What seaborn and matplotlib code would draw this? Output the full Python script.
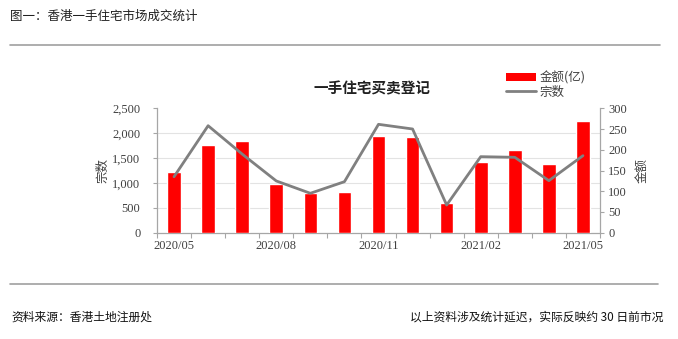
import numpy as np
import pandas as pd
import matplotlib
matplotlib.use("Agg")
import matplotlib.pyplot as plt
from matplotlib.patches import Patch
from matplotlib.lines import Line2D
from matplotlib.ticker import FixedLocator, FuncFormatter
import seaborn as sns

# Monthly first-hand residential registrations, Hong Kong
months = ["2020/05", "2020/06", "2020/07", "2020/08", "2020/09", "2020/10", "2020/11",
          "2020/12", "2021/01", "2021/02", "2021/03", "2021/04", "2021/05"]
amount_yi = [147, 212, 220, 117, 95, 97, 233, 230, 71, 170, 199, 165, 269]   # 金额(亿)
deals = [1125, 2150, 1580, 1040, 792, 1025, 2178, 2084, 556, 1528, 1515, 1046, 1548]  # 宗数
shown_months = ["2020/05", "2020/08", "2020/11", "2021/02", "2021/05"]

sns.set_theme(style="white")
plt.rcParams["font.family"] = ["Noto Sans CJK SC", "DejaVu Sans"]

df = pd.DataFrame({"pos": np.arange(len(months)), "month": months,
                   "amount": amount_yi, "deals": deals})

W, H = 678, 339
fig = plt.figure(figsize=(W / 100, H / 100), dpi=100)
fig.patch.set_facecolor("white")

left, right, bottom, top = 157, 600, 232.7, 108.3
ax = fig.add_axes([left / W, 1 - bottom / H, (right - left) / W, (bottom - top) / H])
ax2 = ax.twinx()

RED = "#FF0000"
GREY = "#808080"
AXC = "#A6A6A6"
TXT = "#404040"
num_font = dict(family="Liberation Serif", size=9, color=TXT)

# bars: amount on the right-hand scale
sns.barplot(data=df, x="pos", y="amount", ax=ax, color=RED, width=0.4,
            saturation=1, native_scale=True, zorder=3)
ax.set_xlim(-0.5, len(months) - 0.5)
ax.set_ylim(0, 300)
ax.yaxis.tick_right()
ax.yaxis.set_label_position("right")
ax.set_yticks(np.arange(0, 301, 50))
ax.set_yticklabels([f"{v:d}" for v in range(0, 301, 50)], fontdict=num_font)
ax.yaxis.set_minor_locator(FixedLocator(np.arange(60, 301, 60)))
ax.grid(which="minor", axis="y", color="#E3E3E3", linewidth=0.8, zorder=0)
ax.grid(which="major", axis="y", visible=False)
ax.tick_params(axis="y", which="major", left=False, right=True, length=3, width=0.8,
               color=AXC, pad=3)
ax.tick_params(axis="y", which="minor", left=False, right=False, length=0)
ax.set_ylabel("金额", fontsize=9, color=TXT, rotation=90, labelpad=6)

# x axis: labels every third month, tick marks between categories
label_pos = [months.index(m) for m in shown_months]
ax.set_xticks(label_pos)
ax.set_xticklabels(shown_months, fontdict=num_font)
ax.xaxis.set_minor_locator(FixedLocator(np.arange(-0.5, len(months), 1.0)))
ax.tick_params(axis="x", which="major", length=0, pad=5)
ax.tick_params(axis="x", which="minor", bottom=True, length=3.5, width=0.8, color=AXC)
ax.set_xlabel("")

for side in ["left", "right", "bottom"]:
    ax.spines[side].set_visible(True)
    ax.spines[side].set_color(AXC)
    ax.spines[side].set_linewidth(0.9)
ax.spines["top"].set_visible(False)

# line: number of deals on the left-hand scale
sns.lineplot(data=df, x="pos", y="deals", ax=ax2, color=GREY, linewidth=2.0, zorder=4)
ax2.set_xlim(-0.5, len(months) - 0.5)
ax2.set_ylim(0, 2500)
ax2.yaxis.tick_left()
ax2.yaxis.set_label_position("left")
ax2.set_yticks(np.arange(0, 2501, 500))
ax2.yaxis.set_major_formatter(FuncFormatter(lambda v, p: f"{int(v):,}"))
for t in ax2.get_yticklabels():
    t.set_fontfamily("Liberation Serif")
ax2.tick_params(axis="y", left=True, right=False, length=3, width=0.8, color=AXC,
                labelsize=9, labelcolor=TXT, pad=9)
ax2.set_ylabel("宗数", fontsize=9, color=TXT, labelpad=2)
ax2.set_xlabel("")
for s in ax2.spines.values():
    s.set_visible(False)
ax2.grid(False)
ax2.tick_params(axis="x", length=0)

# chart title
fig.text(372 / W, 1 - 88 / H, "一手住宅买卖登记", ha="center", va="center",
         fontsize=10.5, fontweight="bold", color="#202020")

# legend
handles = [Patch(facecolor=RED, edgecolor="none", label="金额(亿)"),
           Line2D([0], [0], color=GREY, linewidth=2.0, label="宗数")]
fig.legend(handles=handles, loc="upper left", bbox_to_anchor=(506 / W, 1 - 71 / H),
           frameon=False, fontsize=9, handlelength=2.4, handleheight=0.6,
           handletextpad=0.3, labelspacing=0.1, borderaxespad=0, borderpad=0,
           labelcolor=TXT)

# header, separators and footer
fig.text(10 / W, 1 - 16 / H, "图一：香港一手住宅市场成交统计", ha="left", va="center",
         fontsize=9, color="#202020")
fig.add_artist(Line2D([10 / W, 660 / W], [1 - 45 / H, 1 - 45 / H], color="#A0A0A0",
                      linewidth=1.2, transform=fig.transFigure))
fig.add_artist(Line2D([10 / W, 658 / W], [1 - 284 / H, 1 - 284 / H], color="#A0A0A0",
                      linewidth=1.2, transform=fig.transFigure))
fig.text(11 / W, 1 - 317 / H, "资料来源：香港土地注册处", ha="left", va="center",
         fontsize=8.5, color="#111111", style="italic")
fig.text(663 / W, 1 - 317 / H, "以上资料涉及统计延迟，实际反映约 30 日前市况", ha="right",
         va="center", fontsize=8.5, color="#111111", style="italic")

fig.savefig("out.png", dpi=100, facecolor="white")
